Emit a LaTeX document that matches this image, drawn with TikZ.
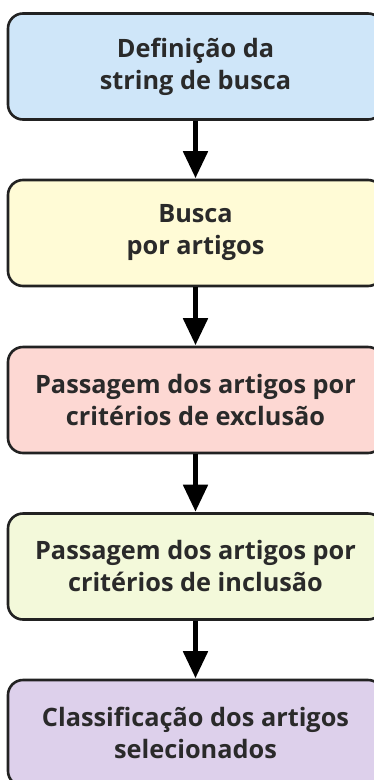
\documentclass[tikz,border=0pt]{standalone}
\usepackage{fontspec}
\setmainfont{Open Sans}
\usetikzlibrary{arrows.meta}
\definecolor{cblue}{HTML}{CFE6F9}
\definecolor{cyellow}{HTML}{FFFBD6}
\definecolor{cpink}{HTML}{FDD8D3}
\definecolor{cgreen}{HTML}{F3F9DA}
\definecolor{cpurple}{HTML}{DDD0EB}
\definecolor{edge}{HTML}{222222}
\definecolor{txt}{HTML}{2A2A2A}
\begin{document}
\begin{tikzpicture}[x=1pt,y=-1pt,
  stepbox/.style={draw=edge, line width=2.6pt, rounded corners=15pt,
    minimum width=375pt, minimum height=106pt, inner sep=0pt,
    align=center, text=txt,
    font=\fontsize{25.3}{32}\selectfont\bfseries},
  flow/.style={draw=black, line width=5pt,
    -{Triangle[width=24pt,length=27pt]}, shorten >=0.5pt}]
\useasboundingbox (0,0) rectangle (374,780);
\clip (0,0) rectangle (374,780);
\node[stepbox, fill=cblue] (b1) at (195.5,66.5) {Definição da\\string de busca};
\node[stepbox, fill=cyellow] (b2) at (195.5,233) {Busca\\por artigos};
\node[stepbox, fill=cpink] (b3) at (195.5,400) {Passagem dos artigos por\\critérios de exclusão};
\node[stepbox, fill=cgreen] (b4) at (195.5,566.5) {Passagem dos artigos por\\critérios de inclusão};
\node[stepbox, fill=cpurple] (b5) at (195.5,733) {Classificação dos artigos\\selecionados};
\draw[flow] (b1.south) -- (b2.north);
\draw[flow] (b2.south) -- (b3.north);
\draw[flow] (b3.south) -- (b4.north);
\draw[flow] (b4.south) -- (b5.north);
\end{tikzpicture}
\end{document}
